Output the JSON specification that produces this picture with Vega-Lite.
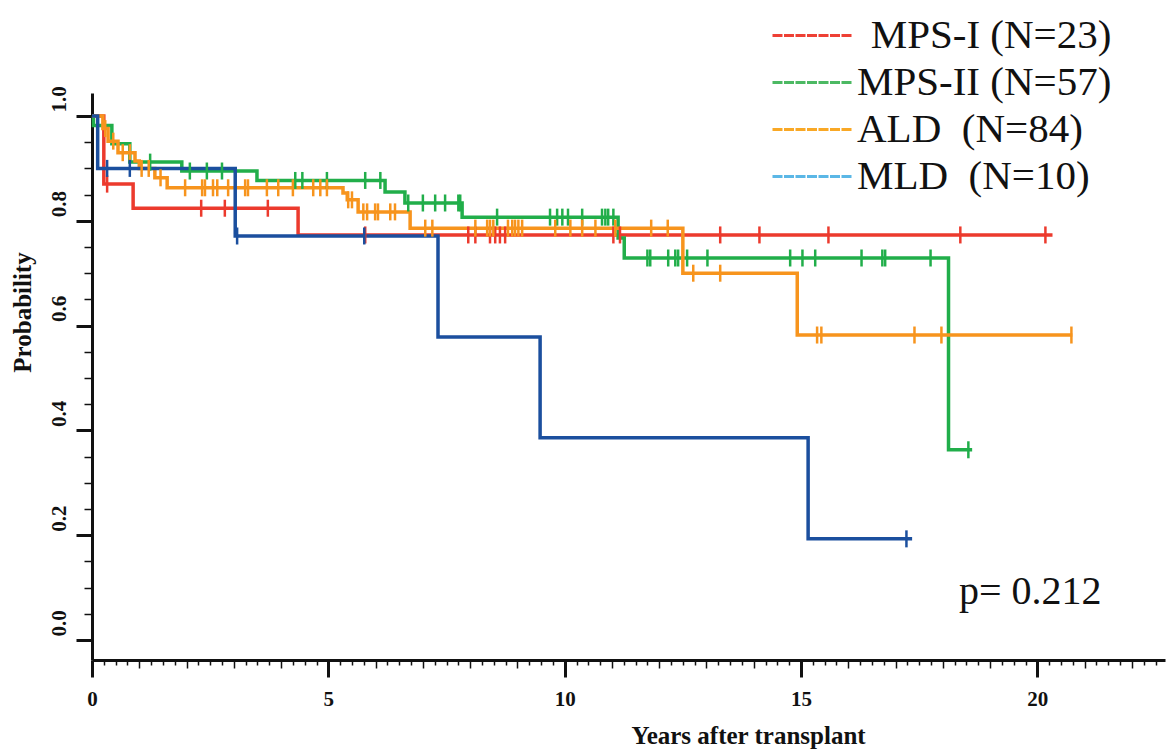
{
  "$schema": "https://vega.github.io/schema/vega-lite/v6.json",
  "width": 1073,
  "height": 567,
  "autosize": {"type": "none"},
  "padding": {"left": 92, "top": 93, "right": 4, "bottom": 89},
  "background": "white",
  "config": {"view": {"stroke": null}, "font": "Liberation Serif"},
  "datasets": {
    "curves": [
      {"g": "MPS-I", "t": 0, "p": 1},
      {"g": "MPS-I", "t": 0.25, "p": 0.870},
      {"g": "MPS-I", "t": 0.87, "p": 0.824},
      {"g": "MPS-I", "t": 4.36, "p": 0.773},
      {"g": "MPS-I", "t": 20.32, "p": 0.773},
      {"g": "MPS-II", "t": 0, "p": 1},
      {"g": "MPS-II", "t": 0.03, "p": 0.982},
      {"g": "MPS-II", "t": 0.42, "p": 0.947},
      {"g": "MPS-II", "t": 0.8, "p": 0.912},
      {"g": "MPS-II", "t": 1.9, "p": 0.895},
      {"g": "MPS-II", "t": 3.49, "p": 0.877},
      {"g": "MPS-II", "t": 6.2, "p": 0.855},
      {"g": "MPS-II", "t": 6.62, "p": 0.834},
      {"g": "MPS-II", "t": 7.83, "p": 0.807},
      {"g": "MPS-II", "t": 11.13, "p": 0.767},
      {"g": "MPS-II", "t": 11.26, "p": 0.729},
      {"g": "MPS-II", "t": 18.12, "p": 0.363},
      {"g": "MPS-II", "t": 18.62, "p": 0.363},
      {"g": "ALD", "t": 0, "p": 1},
      {"g": "ALD", "t": 0.23, "p": 0.976},
      {"g": "ALD", "t": 0.34, "p": 0.952},
      {"g": "ALD", "t": 0.55, "p": 0.93},
      {"g": "ALD", "t": 0.91, "p": 0.914},
      {"g": "ALD", "t": 1.0, "p": 0.9},
      {"g": "ALD", "t": 1.33, "p": 0.882},
      {"g": "ALD", "t": 1.59, "p": 0.863},
      {"g": "ALD", "t": 5.31, "p": 0.853},
      {"g": "ALD", "t": 5.4, "p": 0.84},
      {"g": "ALD", "t": 5.63, "p": 0.817},
      {"g": "ALD", "t": 6.73, "p": 0.786},
      {"g": "ALD", "t": 12.5, "p": 0.70},
      {"g": "ALD", "t": 14.92, "p": 0.582},
      {"g": "ALD", "t": 20.74, "p": 0.582},
      {"g": "MLD", "t": 0, "p": 1},
      {"g": "MLD", "t": 0.12, "p": 0.9},
      {"g": "MLD", "t": 3.03, "p": 0.771},
      {"g": "MLD", "t": 7.32, "p": 0.578},
      {"g": "MLD", "t": 9.48, "p": 0.386},
      {"g": "MLD", "t": 15.15, "p": 0.193},
      {"g": "MLD", "t": 17.35, "p": 0.193}
    ],
    "censor": [
      {"g": "MPS-I", "t": 0.32, "p": 0.870},
      {"g": "MPS-I", "t": 2.31, "p": 0.824},
      {"g": "MPS-I", "t": 2.81, "p": 0.824},
      {"g": "MPS-I", "t": 3.72, "p": 0.824},
      {"g": "MPS-I", "t": 5.78, "p": 0.773},
      {"g": "MPS-I", "t": 7.96, "p": 0.773},
      {"g": "MPS-I", "t": 8.11, "p": 0.773},
      {"g": "MPS-I", "t": 8.42, "p": 0.773},
      {"g": "MPS-I", "t": 8.53, "p": 0.773},
      {"g": "MPS-I", "t": 8.63, "p": 0.773},
      {"g": "MPS-I", "t": 8.74, "p": 0.773},
      {"g": "MPS-I", "t": 11.03, "p": 0.773},
      {"g": "MPS-I", "t": 11.17, "p": 0.773},
      {"g": "MPS-I", "t": 13.29, "p": 0.773},
      {"g": "MPS-I", "t": 14.12, "p": 0.773},
      {"g": "MPS-I", "t": 15.58, "p": 0.773},
      {"g": "MPS-I", "t": 18.37, "p": 0.773},
      {"g": "MPS-I", "t": 20.17, "p": 0.773},
      {"g": "MPS-II", "t": 1.23, "p": 0.912},
      {"g": "MPS-II", "t": 2.07, "p": 0.895},
      {"g": "MPS-II", "t": 2.43, "p": 0.895},
      {"g": "MPS-II", "t": 2.75, "p": 0.895},
      {"g": "MPS-II", "t": 4.3, "p": 0.877},
      {"g": "MPS-II", "t": 4.45, "p": 0.877},
      {"g": "MPS-II", "t": 4.97, "p": 0.877},
      {"g": "MPS-II", "t": 5.78, "p": 0.877},
      {"g": "MPS-II", "t": 6.1, "p": 0.877},
      {"g": "MPS-II", "t": 6.69, "p": 0.834},
      {"g": "MPS-II", "t": 7.0, "p": 0.834},
      {"g": "MPS-II", "t": 7.26, "p": 0.834},
      {"g": "MPS-II", "t": 7.47, "p": 0.834},
      {"g": "MPS-II", "t": 7.75, "p": 0.834},
      {"g": "MPS-II", "t": 7.79, "p": 0.834},
      {"g": "MPS-II", "t": 8.57, "p": 0.807},
      {"g": "MPS-II", "t": 9.69, "p": 0.807},
      {"g": "MPS-II", "t": 9.84, "p": 0.807},
      {"g": "MPS-II", "t": 9.95, "p": 0.807},
      {"g": "MPS-II", "t": 10.07, "p": 0.807},
      {"g": "MPS-II", "t": 10.37, "p": 0.807},
      {"g": "MPS-II", "t": 10.79, "p": 0.807},
      {"g": "MPS-II", "t": 10.86, "p": 0.807},
      {"g": "MPS-II", "t": 10.92, "p": 0.807},
      {"g": "MPS-II", "t": 11.03, "p": 0.807},
      {"g": "MPS-II", "t": 11.75, "p": 0.729},
      {"g": "MPS-II", "t": 11.81, "p": 0.729},
      {"g": "MPS-II", "t": 12.19, "p": 0.729},
      {"g": "MPS-II", "t": 12.34, "p": 0.729},
      {"g": "MPS-II", "t": 12.4, "p": 0.729},
      {"g": "MPS-II", "t": 12.59, "p": 0.729},
      {"g": "MPS-II", "t": 13.02, "p": 0.729},
      {"g": "MPS-II", "t": 14.77, "p": 0.729},
      {"g": "MPS-II", "t": 15.03, "p": 0.729},
      {"g": "MPS-II", "t": 15.3, "p": 0.729},
      {"g": "MPS-II", "t": 16.28, "p": 0.729},
      {"g": "MPS-II", "t": 16.72, "p": 0.729},
      {"g": "MPS-II", "t": 16.78, "p": 0.729},
      {"g": "MPS-II", "t": 17.74, "p": 0.729},
      {"g": "MPS-II", "t": 18.54, "p": 0.363},
      {"g": "ALD", "t": 0.28, "p": 0.976},
      {"g": "ALD", "t": 0.45, "p": 0.952},
      {"g": "ALD", "t": 0.65, "p": 0.93},
      {"g": "ALD", "t": 0.8, "p": 0.93},
      {"g": "ALD", "t": 1.05, "p": 0.9},
      {"g": "ALD", "t": 1.2, "p": 0.9},
      {"g": "ALD", "t": 1.45, "p": 0.882},
      {"g": "ALD", "t": 1.97, "p": 0.863},
      {"g": "ALD", "t": 2.33, "p": 0.863},
      {"g": "ALD", "t": 2.39, "p": 0.863},
      {"g": "ALD", "t": 2.56, "p": 0.863},
      {"g": "ALD", "t": 2.65, "p": 0.863},
      {"g": "ALD", "t": 2.88, "p": 0.863},
      {"g": "ALD", "t": 3.24, "p": 0.863},
      {"g": "ALD", "t": 3.3, "p": 0.863},
      {"g": "ALD", "t": 3.7, "p": 0.863},
      {"g": "ALD", "t": 3.94, "p": 0.863},
      {"g": "ALD", "t": 4.25, "p": 0.863},
      {"g": "ALD", "t": 4.68, "p": 0.863},
      {"g": "ALD", "t": 4.83, "p": 0.863},
      {"g": "ALD", "t": 4.97, "p": 0.863},
      {"g": "ALD", "t": 5.42, "p": 0.84},
      {"g": "ALD", "t": 5.5, "p": 0.84},
      {"g": "ALD", "t": 5.74, "p": 0.817},
      {"g": "ALD", "t": 5.82, "p": 0.817},
      {"g": "ALD", "t": 5.99, "p": 0.817},
      {"g": "ALD", "t": 6.05, "p": 0.817},
      {"g": "ALD", "t": 6.31, "p": 0.817},
      {"g": "ALD", "t": 6.41, "p": 0.817},
      {"g": "ALD", "t": 7.05, "p": 0.786},
      {"g": "ALD", "t": 7.2, "p": 0.786},
      {"g": "ALD", "t": 8.11, "p": 0.786},
      {"g": "ALD", "t": 8.36, "p": 0.786},
      {"g": "ALD", "t": 8.42, "p": 0.786},
      {"g": "ALD", "t": 8.49, "p": 0.786},
      {"g": "ALD", "t": 8.8, "p": 0.786},
      {"g": "ALD", "t": 8.89, "p": 0.786},
      {"g": "ALD", "t": 8.95, "p": 0.786},
      {"g": "ALD", "t": 9.02, "p": 0.786},
      {"g": "ALD", "t": 9.1, "p": 0.786},
      {"g": "ALD", "t": 9.8, "p": 0.786},
      {"g": "ALD", "t": 10.12, "p": 0.786},
      {"g": "ALD", "t": 10.37, "p": 0.786},
      {"g": "ALD", "t": 10.65, "p": 0.786},
      {"g": "ALD", "t": 11.07, "p": 0.786},
      {"g": "ALD", "t": 11.83, "p": 0.786},
      {"g": "ALD", "t": 12.18, "p": 0.786},
      {"g": "ALD", "t": 12.72, "p": 0.70},
      {"g": "ALD", "t": 13.29, "p": 0.70},
      {"g": "ALD", "t": 15.34, "p": 0.582},
      {"g": "ALD", "t": 15.43, "p": 0.582},
      {"g": "ALD", "t": 17.4, "p": 0.582},
      {"g": "ALD", "t": 17.97, "p": 0.582},
      {"g": "ALD", "t": 20.72, "p": 0.582},
      {"g": "MLD", "t": 0.32, "p": 0.9},
      {"g": "MLD", "t": 0.8, "p": 0.9},
      {"g": "MLD", "t": 3.07, "p": 0.771},
      {"g": "MLD", "t": 5.76, "p": 0.771},
      {"g": "MLD", "t": 17.23, "p": 0.193}
    ],
    "note": [{"label": "p= 0.212", "t": 19.85, "p": 0.069}]
  },
  "encoding": {
    "x": {
      "field": "t", "type": "quantitative",
      "scale": {"domain": [0, 22.7], "nice": false, "zero": false},
      "axis": {
        "values": [0,0.25,0.5,0.75,1,1.25,1.5,1.75,2,2.25,2.5,2.75,3,3.25,3.5,3.75,4,4.25,4.5,4.75,5,5.25,5.5,5.75,6,6.25,6.5,6.75,7,7.25,7.5,7.75,8,8.25,8.5,8.75,9,9.25,9.5,9.75,10,10.25,10.5,10.75,11,11.25,11.5,11.75,12,12.25,12.5,12.75,13,13.25,13.5,13.75,14,14.25,14.5,14.75,15,15.25,15.5,15.75,16,16.25,16.5,16.75,17,17.25,17.5,17.75,18,18.25,18.5,18.75,19,19.25,19.5,19.75,20,20.25,20.5,20.75,21,21.25,21.5,21.75,22,22.25,22.5],
        "grid": false,
        "domainColor": "#111", "domainWidth": 3,
        "tickColor": "#111",
        "tickSize": {"condition": [{"test": "abs(datum.value/5 - round(datum.value/5)) < 0.001", "value": 17}, {"test": "abs(datum.value - round(datum.value)) < 0.001", "value": 8}], "value": 5},
        "tickWidth": {"condition": {"test": "abs(datum.value/5 - round(datum.value/5)) < 0.001", "value": 3}, "value": 1.5},
        "labelExpr": "abs(datum.value/5 - round(datum.value/5)) < 0.001 && datum.value <= 20 ? format(datum.value, '.0f') : ''",
        "labelFont": "Liberation Serif", "labelFontWeight": "bold", "labelFontSize": 21, "labelColor": "#111",
        "labelPadding": 11, "labelOverlap": false, "labelBound": false, "labelFlush": false,
        "title": "Years after transplant",
        "titleFont": "Liberation Serif", "titleFontWeight": "bold", "titleFontSize": 25, "titleColor": "#111",
        "titleX": 656, "titleY": 83, "titleAlign": "center", "titleBaseline": "alphabetic"
      }
    },
    "y": {
      "field": "p", "type": "quantitative",
      "scale": {"domain": [-0.0382, 1.0439], "nice": false, "zero": false},
      "axis": {
        "values": [0,0.05,0.1,0.15,0.2,0.25,0.3,0.35,0.4,0.45,0.5,0.55,0.6,0.65,0.7,0.75,0.8,0.85,0.9,0.95,1],
        "grid": false,
        "domainColor": "#111", "domainWidth": 3,
        "tickColor": "#111",
        "tickSize": {"condition": {"test": "abs(datum.value*5 - round(datum.value*5)) < 0.001", "value": 16}, "value": 8},
        "tickWidth": {"condition": {"test": "abs(datum.value*5 - round(datum.value*5)) < 0.001", "value": 3}, "value": 1.5},
        "labelExpr": "abs(datum.value*5 - round(datum.value*5)) < 0.001 ? format(datum.value, '.1f') : ''",
        "labelFont": "Liberation Serif", "labelFontWeight": "bold", "labelFontSize": 21, "labelColor": "#111",
        "labelAngle": -90, "labelAlign": "left", "labelBaseline": "alphabetic", "labelOffset": -4,
        "labelPadding": 11, "labelOverlap": false, "labelBound": false, "labelFlush": false,
        "title": "Probability",
        "titleFont": "Liberation Serif", "titleFontWeight": "bold", "titleFontSize": 25, "titleColor": "#111",
        "titleX": -70, "titleY": 219, "titleAngle": -90, "titleAlign": "center", "titleBaseline": "middle"
      }
    }
  },
  "layer": [
    {
      "data": {"name": "curves"},
      "mark": {"type": "line", "interpolate": "step-after", "strokeWidth": 3.5},
      "encoding": {
        "color": {"field": "g", "type": "nominal",
          "scale": {"domain": ["MPS-I", "MPS-II", "ALD", "MLD"], "range": ["#EC3A2D", "#21AE4A", "#F7941D", "#1B4F9E"]},
          "legend": null}
      }
    },
    {
      "data": {"name": "censor"},
      "mark": {"type": "tick", "orient": "vertical", "size": 17, "thickness": 2.5, "opacity": 1},
      "encoding": {
        "color": {"field": "g", "type": "nominal",
          "scale": {"domain": ["MPS-I", "MPS-II", "ALD", "MLD"], "range": ["#EC3A2D", "#21AE4A", "#F7941D", "#1B4F9E"]},
          "legend": null}
      }
    },
    {
      "data": {"name": "curves"},
      "transform": [{"filter": "false"}],
      "mark": {"type": "line", "strokeWidth": 3},
      "encoding": {
        "color": {"field": "g", "type": "nominal",
          "scale": {"domain": ["MPS-I", "MPS-II", "ALD", "MLD"], "range": ["#EE4035", "#4CB963", "#F9A825", "#5BB7E6"]},
          "legend": {
            "orient": "none", "legendX": 670, "legendY": -78, "title": null, "padding": 0,
            "symbolType": "M-1,0H7", "symbolSize": 400, "symbolStrokeWidth": 3, "symbolDash": [10, 1.5], "symbolOpacity": 1,
            "labelFont": "Liberation Serif", "labelFontSize": 41, "labelColor": "#111", "labelOffset": 54, "labelLimit": 0,
            "rowPadding": 5,
            "labelExpr": "datum.value == 'MPS-I' ? '\u200b\u2004MPS-I (N=23)' : datum.value == 'MPS-II' ? 'MPS-II (N=57)' : datum.value == 'ALD' ? 'ALD\u00a0\u00a0(N=84)' : 'MLD\u00a0\u00a0(N=10)'"
          }
        }
      }
    },
    {
      "data": {"name": "note"},
      "mark": {"type": "text", "font": "Liberation Serif", "fontSize": 40, "align": "center", "baseline": "alphabetic", "color": "#111"},
      "encoding": {"text": {"field": "label"}}
    }
  ],
  "resolve": {"scale": {"color": "independent"}}
}
